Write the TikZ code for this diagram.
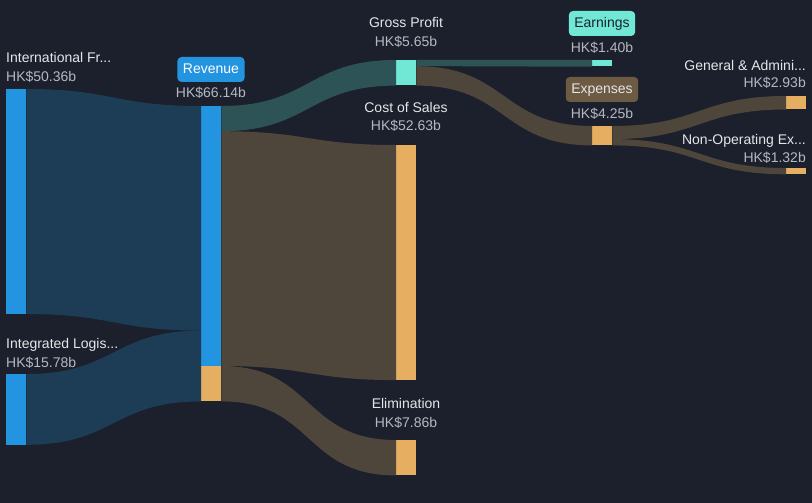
\documentclass[tikz,border=0pt]{standalone}
\usepackage{fontspec}
\setmainfont{Liberation Sans}
\usetikzlibrary{calc}
\definecolor{bgnavy}{HTML}{1B202C}
\definecolor{barblue}{HTML}{2394DF}
\definecolor{barteal}{HTML}{70E8D5}
\definecolor{barorange}{HTML}{E6AE61}
\definecolor{blueflow}{HTML}{1D3C55}
\definecolor{tealflow}{HTML}{2E5357}
\definecolor{brownflow}{HTML}{4E463A}
\definecolor{expbrown}{HTML}{6D5A43}
\definecolor{lblwhite}{HTML}{E4E6EA}
\definecolor{valgrey}{HTML}{B4B8C0}
\tikzset{
  bar/.style={rectangle, inner sep=0pt, minimum width=20pt, anchor=north west},
  lbl/.style={text=lblwhite, anchor=base, inner sep=0pt, font=\fontsize{14}{16}\selectfont},
  val/.style={text=valgrey, anchor=base, inner sep=0pt, font=\fontsize{14}{16}\selectfont},
  badge/.style={rounded corners=4pt, minimum height=25pt, inner xsep=5.5pt, inner ysep=0pt,
    text height=10pt, text depth=2.5pt, font=\fontsize{14}{16}\selectfont},
  fwd/.style={out=0, in=180, looseness=1.25},
  back/.style={out=180, in=0, looseness=1.25}
}
\begin{document}
\begin{tikzpicture}[x=1pt, y=-1pt]
    \fill[bgnavy] (0,0) rectangle (812,503);
    \useasboundingbox (0,0) rectangle (812,503);
    % bars
    \node[bar, fill=barblue, minimum height=224.6pt] (intl) at (6,89) {};
    \node[bar, fill=barblue, minimum height=70.4pt] (logis) at (6,374) {};
    \node[bar, fill=barblue, minimum height=295pt] (rev) at (201,106) {};
    \node[bar, fill=barorange, minimum height=35pt] (revelim) at (201,366) {};
    \node[bar, fill=barteal, minimum height=25.2pt] (gp) at (396,60) {};
    \node[bar, fill=barorange, minimum height=234.7pt] (cos) at (396,145) {};
    \node[bar, fill=barorange, minimum height=35pt] (elim) at (396,440) {};
    \node[bar, fill=barteal, minimum height=6.2pt] (earn) at (592,60) {};
    \node[bar, fill=barorange, minimum height=19pt] (exp) at (592,126) {};
    \node[bar, fill=barorange, minimum height=13.1pt] (ga) at (786,96) {};
    \node[bar, fill=barorange, minimum height=5.9pt] (nonop) at (786,168) {};
    % flows
    \fill[blueflow] (intl.north east) to[fwd] (rev.north west) -- ($(rev.north west)+(0,224.6)$) to[back] (intl.south east) -- cycle;
    \fill[blueflow] (logis.north east) to[fwd] ($(rev.north west)+(0,224.6)$) -- (rev.south west) to[back] (logis.south east) -- cycle;
    \fill[tealflow] (rev.north east) to[fwd] (gp.north west) -- (gp.south west) to[back] ($(rev.north east)+(0,25.2)$) -- cycle;
    \fill[brownflow] ($(rev.north east)+(0,25.2)$) to[fwd] (cos.north west) -- (cos.south west) to[back] (revelim.north east) -- cycle;
    \fill[brownflow] (revelim.north east) to[fwd] (elim.north west) -- (elim.south west) to[back] (revelim.south east) -- cycle;
    \fill[tealflow] (gp.north east) to[fwd] (earn.north west) -- (earn.south west) to[back] ($(gp.north east)+(0,6.2)$) -- cycle;
    \fill[brownflow] ($(gp.north east)+(0,6.2)$) to[fwd] (exp.north west) -- (exp.south west) to[back] (gp.south east) -- cycle;
    \fill[brownflow] (exp.north east) to[fwd] (ga.north west) -- (ga.south west) to[back] ($(exp.north east)+(0,13.1)$) -- cycle;
    \fill[brownflow] ($(exp.north east)+(0,13.1)$) to[fwd] (nonop.north west) -- (nonop.south west) to[back] (exp.south east) -- cycle;
    % labels
    \node[lbl, anchor=base west] (intlname) at (6,63) {International Fr...};
    \node[val, anchor=base west] (intlval) at (6,82) {HK\$50.36b};
    \node[badge, fill=barblue, text=white] (revbadge) at (211,69.5) {Revenue};
    \node[val] (revval) at (211,98) {HK\$66.14b};
    \node[lbl] (gpname) at (406,28) {Gross Profit};
    \node[val] (gpval) at (406,47) {HK\$5.65b};
    \node[badge, fill=barteal, text=bgnavy] (earnbadge) at (602,23.5) {Earnings};
    \node[val] (earnval) at (602,53) {HK\$1.40b};
    \node[badge, fill=expbrown, text=lblwhite] (expbadge) at (602,89.5) {Expenses};
    \node[val] (expval) at (602,118) {HK\$4.25b};
    \node[lbl] (cosname) at (406,113) {Cost of Sales};
    \node[val] (cosval) at (406,131) {HK\$52.63b};
    \node[lbl, anchor=base east] (ganame) at (806,71) {General \& Admini...};
    \node[val, anchor=base east] (gaval) at (806,88) {HK\$2.93b};
    \node[lbl, anchor=base east] (nonopname) at (806,144) {Non-Operating Ex...};
    \node[val, anchor=base east] (nonopval) at (806,162) {HK\$1.32b};
    \node[lbl, anchor=base west] (logisname) at (6,348) {Integrated Logis...};
    \node[val, anchor=base west] (logisval) at (6,367) {HK\$15.78b};
    \node[lbl] (elimname) at (406,408) {Elimination};
    \node[val] (elimval) at (406,427) {HK\$7.86b};
\end{tikzpicture}
\end{document}
